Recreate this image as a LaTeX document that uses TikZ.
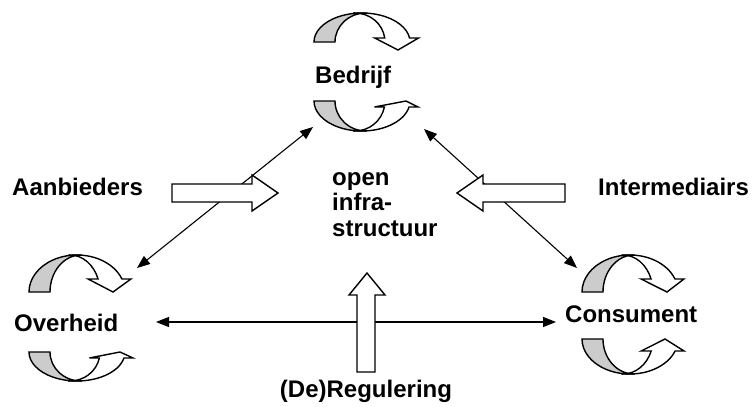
\documentclass[tikz,border=0pt]{standalone}
\usepackage{fontspec}
\setmainfont{Liberation Sans}
\usetikzlibrary{arrows.meta}
\tikzset{
  lbl/.style={font=\fontsize{24}{25.5}\selectfont\bfseries, inner sep=0pt, anchor=base west},
  link/.style={line width=1.1pt,
    {Triangle[length=13pt,width=10pt]}-{Triangle[length=13pt,width=10pt]}},
  block/.style={draw, fill=white, line width=1.4pt, line join=miter},
  curlback/.style={draw, fill=gray!40, line width=1.4pt},
  curlfront/.style={draw, fill=white, line width=1.4pt, line join=miter},
}
% Twisted circular arrow (back face shaded, front face ending in a head).
% #1,#2: outer end of the shaded leg; #3: -1 arc rises, 1 arc hangs;
% #4: arc height; #5: height of the head base; #6: height of the head tip;
% #7: x offset of the head tip
\newcommand{\curlarrow}[7]{%
  \begin{scope}[shift={(#1,#2)}, yscale=#3]
    \pgfmathsetmacro\cbase{asin(#5/#4)}
    \filldraw[curlback] (0,0)
      arc[start angle=180, end angle=85, x radius=48, y radius=#4]
      -- (52,#4) arc[start angle=90, end angle=180, x radius=31, y radius=#4] -- cycle;
    \filldraw[curlfront] ({48+48*cos(98)},{#4*sin(98)})
      arc[start angle=98, end angle=\cbase, x radius=48, y radius=#4]
      -- ({48+48*cos(\cbase)+9},#5) -- (#7,#6)
      -- ({41+30*cos(\cbase)-10},#5) -- ({41+30*cos(\cbase)},#5)
      arc[start angle=\cbase, end angle=90, x radius=30, y radius=#4] -- cycle;
  \end{scope}}

\begin{document}
\begin{tikzpicture}[x=1pt, y=-1pt]
\useasboundingbox (0,0) rectangle (756,407);

% actors
\node[lbl] (bedrijf) at (315,83) {Bedrijf};
\node[lbl] (overheid) at (14,331) {Overheid};
\node[lbl] (consument) at (565,322) {Consument};
\node[lbl] (aanbieders) at (12,195) {Aanbieders};
\node[lbl] (intermed) at (598,195) {Intermediairs};
\node[lbl, anchor=base] (regulering) at (366,397) {(De)Regulering};
\node[lbl, anchor=north west, align=left] (infra) at (332,172) {open\\infra-\\structuur};

% cycles around each actor
\curlarrow{314}{42}{-1}{29}{4}{-8}{84}
\curlarrow{314}{101}{1}{30}{6}{0}{92}
\curlarrow{29}{292}{-1}{37}{13}{0}{84}
\curlarrow{29}{352}{1}{29}{6}{0}{91}
\curlarrow{582}{292}{-1}{37}{13}{0}{85}
\curlarrow{582}{339}{1}{35}{12}{0}{83}

% relations between the actors
\coordinate (bedL) at (313,127);
\coordinate (bedR) at (424,129);
\coordinate (ovhT) at (137,268);
\coordinate (ovhR) at (156,322);
\coordinate (conT) at (577,268);
\coordinate (conL) at (556,322);
\draw[link] (ovhT) -- (bedL);
\draw[link] (bedR) -- (conT);
\draw[link] (ovhR) -- (conL);

% inflows into the open infrastructure
\draw[block] (172,184) -- (252,184) -- (252,175) -- (278,193) -- (252,211)
  -- (252,202) -- (172,202) -- cycle;
\draw[block] (565,184) -- (483,184) -- (483,175) -- (457,193) -- (483,211)
  -- (483,202) -- (565,202) -- cycle;
\draw[block] (357,372) -- (357,295) -- (349,295) -- (367,273) -- (385,295)
  -- (375,295) -- (375,372) -- cycle;
\end{tikzpicture}
\end{document}
